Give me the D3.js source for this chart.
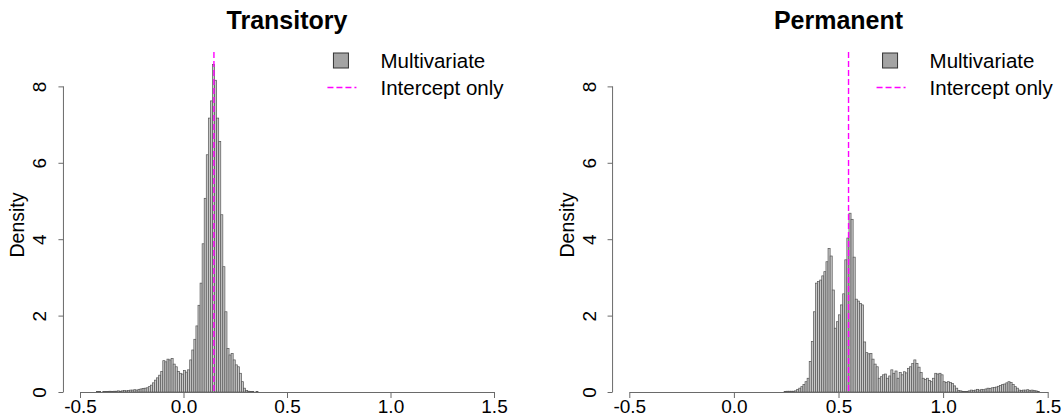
<!DOCTYPE html>
<html><head><meta charset="utf-8">
<script src="https://cdn.jsdelivr.net/npm/d3@7"></script>
<style>
html,body{margin:0;padding:0;background:#fff;}
svg{display:block;font-family:"Liberation Sans",Arial,sans-serif;}
</style></head><body>
<svg id="chart" width="1063" height="419"></svg>
<script>
// Histogram bins are 0.01 wide; each density array starts at its *Start value.
const binWidth = 0.01;

const transitoryStart = -0.58;
const transitoryDensity = [
  0,0,0,0,0,0,0,0,0,0,0,0,0,0,0,0,
  0.01,0.01,0.00,0.01,0.01,0.01,0.02,0.01,0.02,0.02,
  0.03,0.02,0.03,0.04,0.03,0.04,0.05,0.05,0.06,0.05,
  0.07,0.08,0.09,0.10,0.11,0.14,0.18,0.24,0.31,0.37,
  0.44,0.54,0.82,0.79,0.86,0.84,0.88,0.73,0.66,0.54,
  0.49,0.47,0.56,0.52,0.58,0.84,1.10,1.38,1.73,2.27,
  2.85,3.88,5.07,6.21,7.17,7.62,8.57,8.16,7.17,6.56,
  4.64,3.28,2.10,1.14,0.97,1.01,0.84,0.71,0.66,0.49,
  0.27,0.10,0.04,0.02,0.01,0.01,0.00,0.01,0,0,0,0
];
const transitoryIntercept = 0.147;

const permanentStart = 0.10;
const permanentDensity = [
  0,0,0,0,0,0,0,0,0,0,0,0,0,0,
  0.01,0.02,0.02,0.02,0.02,0.03,
  0.07,0.10,0.14,0.20,0.27,0.36,0.80,1.32,2.10,2.85,
  2.89,2.93,3.04,3.15,3.41,3.76,3.56,2.67,1.67,1.84,
  2.02,2.28,2.57,3.46,4.03,4.68,4.52,3.53,2.43,2.38,
  2.32,2.28,1.31,1.03,1.00,1.01,0.86,0.73,0.66,0.36,
  0.40,0.45,0.47,0.36,0.42,0.58,0.49,0.55,0.36,0.51,
  0.45,0.53,0.50,0.62,0.66,0.75,0.84,0.75,0.65,0.51,
  0.36,0.33,0.36,0.30,0.27,0.36,0.49,0.47,0.49,0.45,
  0.27,0.25,0.27,0.25,0.22,0.16,0.10,0.04,0.03,0.01,
  0.01,0.01,0.03,0.05,0.04,0.05,0.07,0.05,0.07,0.06,
  0.08,0.10,0.09,0.11,0.12,0.13,0.15,0.17,0.20,0.21,
  0.24,0.27,0.25,0.20,0.14,0.10,0.05,0.04,0.05,0.05,
  0.06,0.04,0.05,0.04,0.03,0.01,0.00
];
const permanentIntercept = 0.548;

const titles = ["Transitory", "Permanent"];
const legendLabels = ["Multivariate", "Intercept only"];
const xTicks = [-0.5, 0, 0.5, 1, 1.5];
const xTickLabels = ["-0.5", "0.0", "0.5", "1.0", "1.5"];
const yTicks = [0, 2, 4, 6, 8];
const yTickLabels = ["0", "2", "4", "6", "8"];
const yLabel = "Density";

const svg = d3.select("#chart");

const panels = [
  { title: titles[0], start: transitoryStart, density: transitoryDensity,
    intercept: transitoryIntercept, tickLeft: 80, tickRight: 494 },
  { title: titles[1], start: permanentStart, density: permanentDensity,
    intercept: permanentIntercept, tickLeft: 629.3, tickRight: 1047.7 }
];

const plotTop = 52, plotBottom = 392;
const y = d3.scaleLinear().domain([0, 8.9]).range([plotBottom, plotTop]);

const barFill = "#c8c8c8", barStroke = "#555555";
const axisColor = "#6a6a6a";
const lineColor = "#ff00ff";

panels.forEach(p => {
  // x scale pinned by the outer tick positions; the plot box runs from -0.58 to 1.58
  const x = d3.scaleLinear().domain([-0.5, 1.5]).range([p.tickLeft, p.tickRight]);
  const left = x(-0.58), right = x(1.58);
  const g = svg.append("g");

  // histogram bars
  const bins = p.density.map((d, i) => ({
    x0: p.start + i * binWidth,
    x1: p.start + (i + 1) * binWidth,
    d
  }));
  g.append("g").selectAll("rect").data(bins).join("rect")
    .attr("x", b => x(b.x0))
    .attr("width", b => x(b.x1) - x(b.x0))
    .attr("y", b => y(b.d))
    .attr("height", b => y(0) - y(b.d))
    .attr("fill", barFill)
    .attr("stroke", barStroke)
    .attr("stroke-width", 0.7);

  // x axis
  const xAxis = d3.axisBottom(x).tickValues(xTicks)
    .tickFormat((v, i) => xTickLabels[i]).tickSize(6).tickPadding(3).tickSizeOuter(0);
  const gx = g.append("g").attr("transform", `translate(0,${plotBottom})`).call(xAxis);
  gx.select(".domain").attr("stroke", axisColor);
  gx.selectAll(".tick line").attr("stroke", axisColor);
  gx.selectAll(".tick text").attr("fill", "#000").attr("font-size", 19)
    .attr("y", 0).attr("dy", 0).attr("transform", "translate(0,21)");

  // y axis with labels turned parallel to the axis
  const yAxis = d3.axisLeft(y).tickValues(yTicks)
    .tickFormat((v, i) => yTickLabels[i]).tickSize(5).tickSizeOuter(0);
  const gy = g.append("g").attr("transform", `translate(${left},0)`).call(yAxis);
  gy.select(".domain").attr("stroke", axisColor)
    .attr("d", `M0,${y(0)}V${y(8)}`);
  gy.selectAll(".tick line").attr("stroke", axisColor);
  gy.selectAll(".tick text").attr("fill", "#000").attr("font-size", 19)
    .attr("x", 0).attr("dy", 0).attr("text-anchor", "middle")
    .attr("transform", "translate(-17,0) rotate(-90)");

  g.append("text")
    .attr("transform", `translate(${left - 39},${(plotTop + plotBottom) / 2 + 3}) rotate(-90)`)
    .attr("text-anchor", "middle").attr("font-size", 19.5).text(yLabel);

  // title
  g.append("text")
    .attr("x", (left + right) / 2).attr("y", 29)
    .attr("text-anchor", "middle").attr("font-size", 25).attr("font-weight", "bold")
    .text(p.title);

  // intercept-only estimate
  g.append("line")
    .attr("x1", x(p.intercept)).attr("x2", x(p.intercept))
    .attr("y1", plotTop).attr("y2", plotBottom)
    .attr("stroke", lineColor).attr("stroke-width", 1.4)
    .attr("stroke-dasharray", "6,3");

  // legend
  const lg = g.append("g").attr("transform", `translate(${left},0)`);
  lg.append("rect").attr("x", 270).attr("y", 53).attr("width", 15).attr("height", 15)
    .attr("fill", "#a4a4a4").attr("stroke", "#333").attr("stroke-width", 1);
  lg.append("line").attr("x1", 264).attr("x2", 293).attr("y1", 87.5).attr("y2", 87.5)
    .attr("stroke", lineColor).attr("stroke-width", 1.4).attr("stroke-dasharray", "6,3");
  lg.selectAll("text.leg").data(legendLabels).join("text")
    .attr("class", "leg")
    .attr("x", 317).attr("y", (d, i) => 68 + i * 27)
    .attr("font-size", 20.5).text(d => d);
});
</script>
</body></html>
